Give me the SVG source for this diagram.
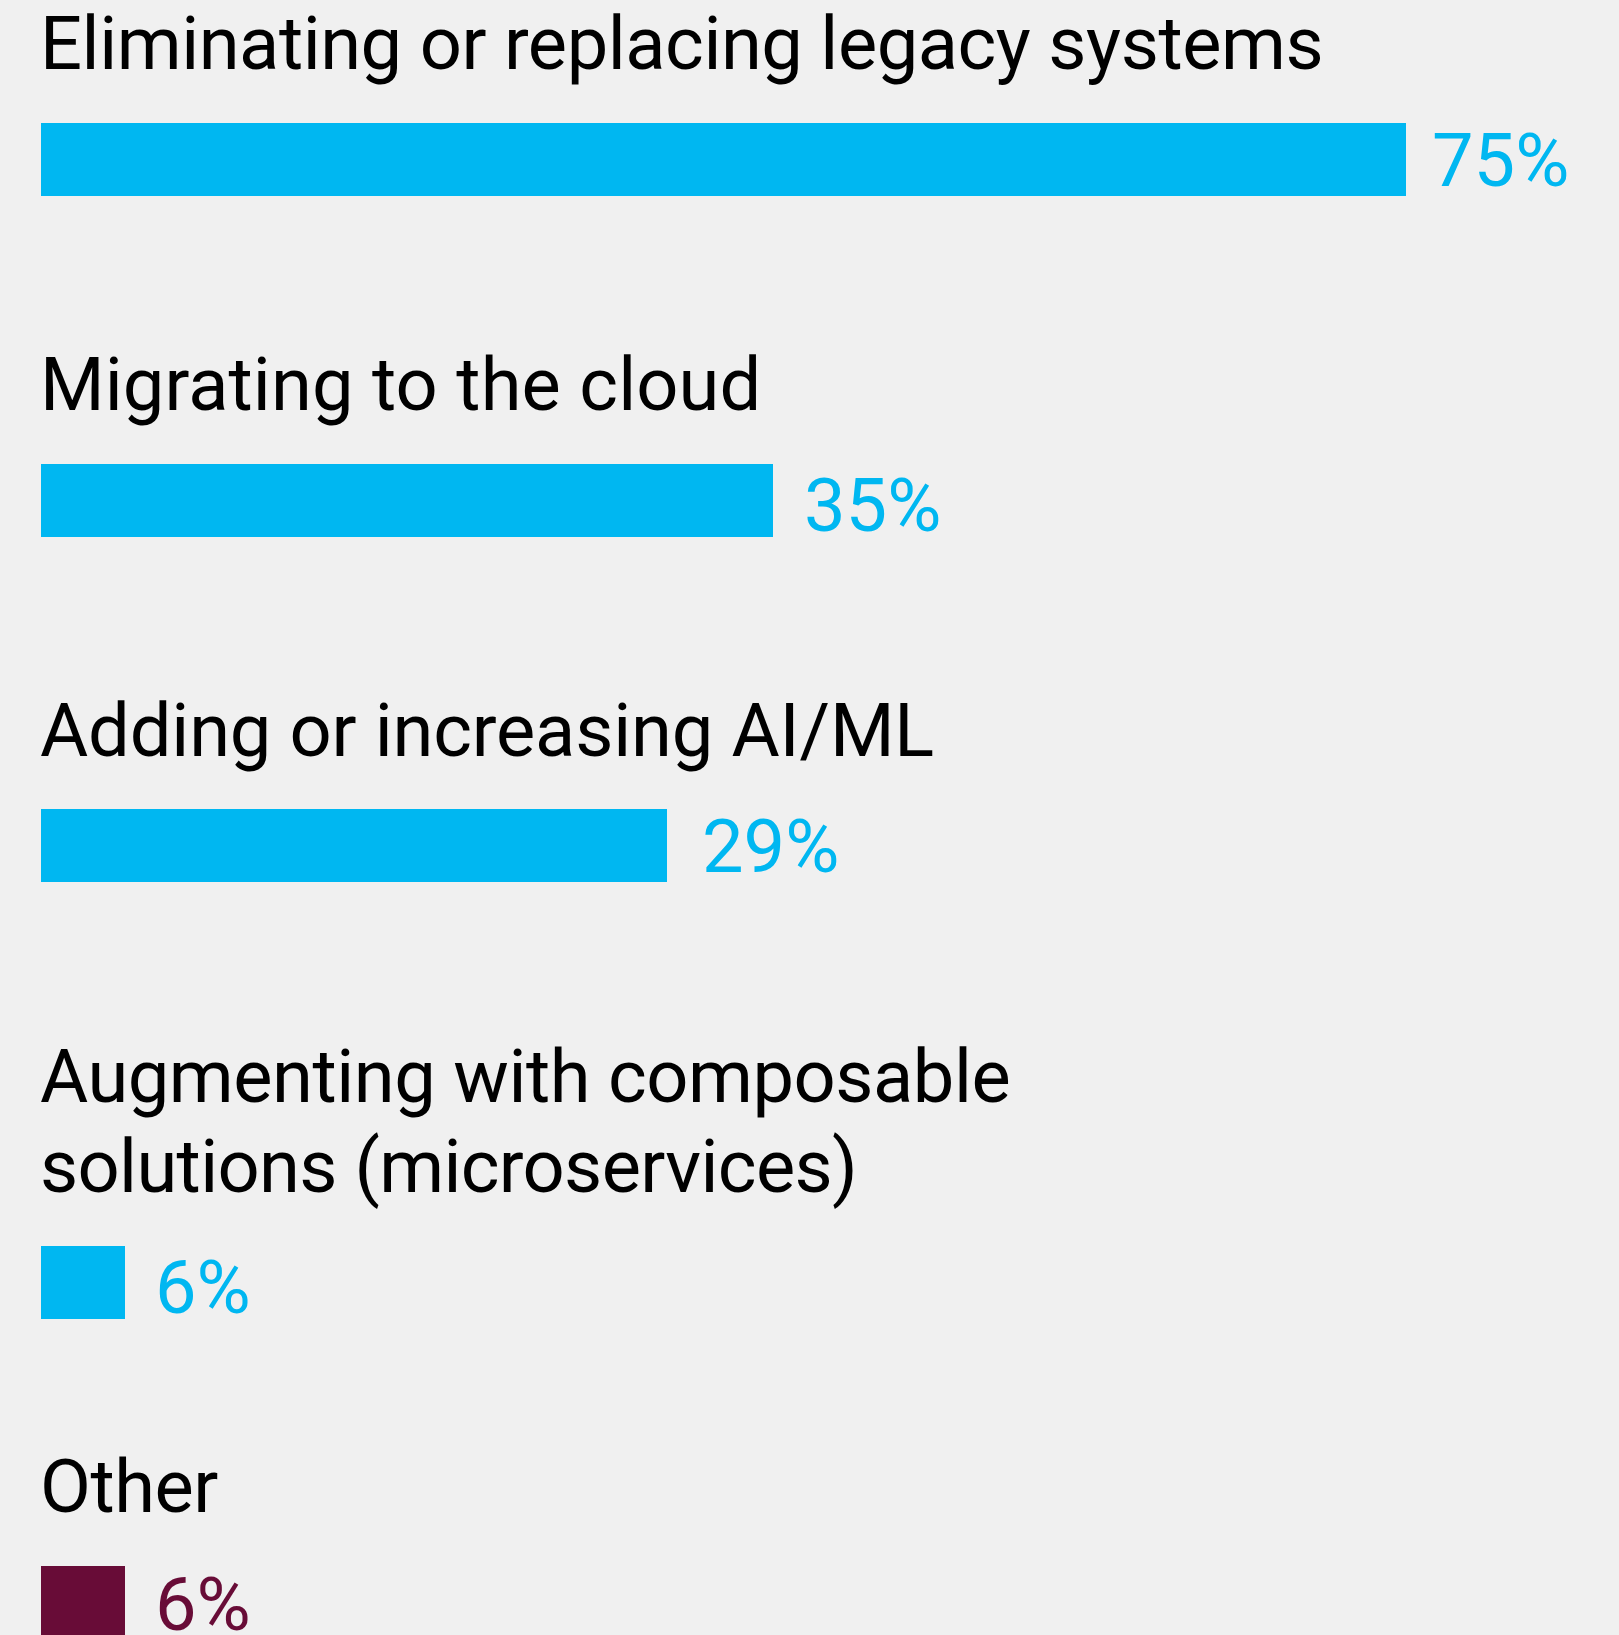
<svg xmlns="http://www.w3.org/2000/svg" width="1619" height="1635" viewBox="0 0 1619 1635">
<style>
.lbl{font-family:Roboto,"Liberation Sans",sans-serif;font-size:74px;fill:#000;letter-spacing:-0.45px}
.pct{font-family:Roboto,"Liberation Sans",sans-serif;font-size:74px;fill:#00B7F1}
.bar{fill:#00B7F1}
</style>
<rect width="1619" height="1635" fill="#F0F0F0"/>
<g id="row1">
<text class="lbl" x="40" y="69">Eliminating or replacing legacy systems</text>
<rect class="bar" x="41" y="123" width="1365" height="73"/>
<text class="pct" x="1432" y="186">75%</text>
</g>
<g id="row2">
<text class="lbl" x="40" y="410" style="letter-spacing:0.1px">Migrating to the cloud</text>
<rect class="bar" x="41" y="464" width="732" height="73"/>
<text class="pct" x="804" y="531">35%</text>
</g>
<g id="row3">
<text class="lbl" x="40" y="756" style="letter-spacing:-0.15px">Adding or increasing AI/ML</text>
<rect class="bar" x="41" y="809" width="626" height="73"/>
<text class="pct" x="702" y="872">29%</text>
</g>
<g id="row4">
<text class="lbl" x="40" y="1102">Augmenting with composable</text>
<text class="lbl" x="40" y="1192" style="letter-spacing:-0.65px">solutions (microservices)</text>
<rect class="bar" x="41" y="1246" width="84" height="73"/>
<text class="pct" x="155" y="1313">6%</text>
</g>
<g id="row5">
<text class="lbl" x="40" y="1512">Other</text>
<rect x="41" y="1566" width="84" height="73" fill="#680C37"/>
<text class="pct" x="155" y="1630" style="fill:#680C37">6%</text>
</g>
</svg>
